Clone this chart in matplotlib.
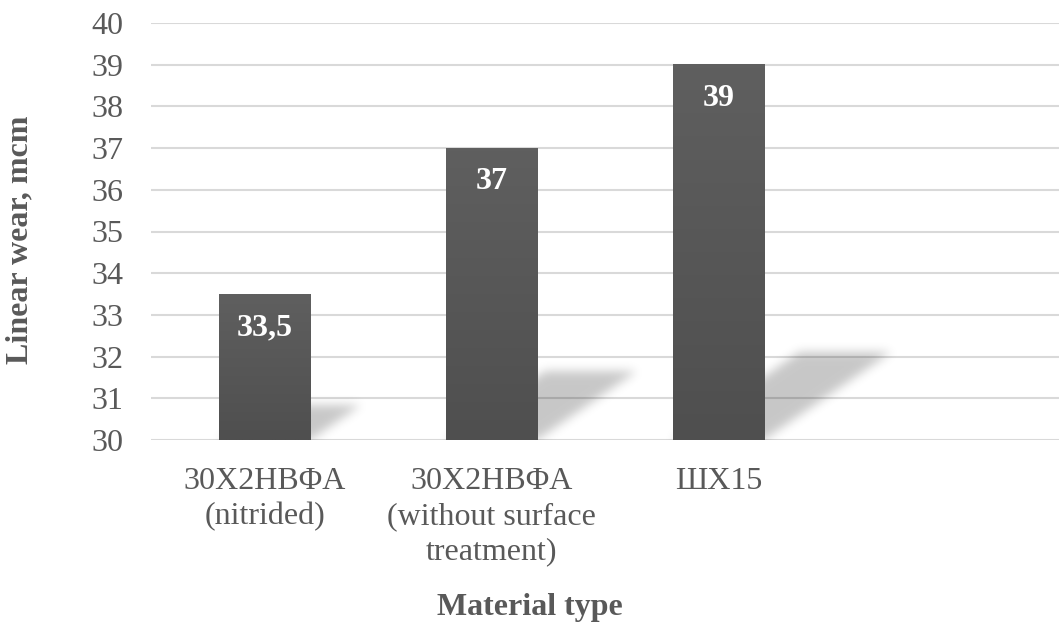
import matplotlib
matplotlib.use("Agg")
import matplotlib.pyplot as plt
import numpy as np
from matplotlib.colors import LinearSegmentedColormap

materials = ["30X2HBΦA\n(nitrided)", "30X2HBΦA\n(without surface\ntreatment)", "ШX15", ""]
wear = [33.5, 37, 39]
yticks = [30, 31, 32, 33, 34, 35, 36, 37, 38, 39, 40]

plt.rcParams['font.family'] = ['Liberation Serif', 'DejaVu Serif']
txt = '#595959'

fig = plt.figure(figsize=(10.59, 6.30), dpi=100)
ax = fig.add_axes([151/1059, 1-440/630, 908/1059, 417/630])

ymin, ymax = 30, 40
xlo, xhi = -0.5, len(materials) - 0.5
w = 0.405

# grid first so the shadows sit on top of it
for t in yticks:
    ax.axhline(t, color='#d9d9d9', lw=1.5, zorder=0.5)

# soft slanted shadows behind the bars
nx, ny = 908, 417
gx = np.linspace(xlo, xhi, nx)
gy = np.linspace(ymin, ymax, ny)
X, Y = np.meshgrid(gx, gy)
mask = np.zeros_like(X)
px_x = nx / (xhi - xlo)
px_y = ny / (ymax - ymin)
for i, v in enumerate(wear):
    h = 0.235 * (v - ymin)
    dx = 1.45 * h * px_y / px_x
    t = (Y - ymin) / h
    inside = (t >= 0) & (t <= 1) & (X >= i - w/2 + t*dx) & (X <= i + w/2 + t*dx)
    mask = np.maximum(mask, inside.astype(float))

def blur(a, sigma):
    r = int(3*sigma)
    k = np.exp(-0.5*(np.arange(-r, r+1)/sigma)**2)
    k /= k.sum()
    a = np.apply_along_axis(lambda m: np.convolve(m, k, mode='same'), 0, a)
    a = np.apply_along_axis(lambda m: np.convolve(m, k, mode='same'), 1, a)
    return a

soft = blur(mask, 5)
rgba = np.zeros((ny, nx, 4))
rgba[..., 3] = soft * 0.22
ax.imshow(rgba, extent=(xlo, xhi, ymin, ymax), origin='lower', aspect='auto',
          zorder=1, interpolation='bilinear')

# bars with a slight vertical gradient
grad = np.linspace(0, 1, 64).reshape(-1, 1)
cm = LinearSegmentedColormap.from_list('bar', ['#4f4f4f', '#5f5f5f'])
for i, v in enumerate(wear):
    ax.imshow(grad, cmap=cm, extent=(i - w/2, i + w/2, ymin, v), origin='lower',
              aspect='auto', zorder=2, interpolation='bilinear')
    ax.text(i, v - 0.8, str(v).replace('.', ',').replace(',0', ''), ha='center', va='center',
            color='white', fontsize=23, fontweight='bold', zorder=3)

ax.set_xlim(xlo, xhi)
ax.set_ylim(ymin, ymax)
ax.set_xticks(range(len(materials)))
ax.set_xticklabels(materials, color=txt, fontsize=23, linespacing=1.28, va='top')
ax.set_yticks(yticks)
ax.set_yticklabels([str(t) for t in yticks], color=txt, fontsize=23)
ax.tick_params(axis='x', length=0, pad=19.5)
ax.tick_params(axis='y', length=0, pad=20)
for s in ax.spines.values():
    s.set_visible(False)

fig.text(529.5/1059, 1-607/630, 'Material type', ha='center', va='center',
         color=txt, fontsize=23, fontweight='bold')
fig.text(20/1059, 1-240/630, 'Linear wear, mcm', ha='center', va='center', rotation=90,
         color=txt, fontsize=23, fontweight='bold')

fig.savefig('out.png', dpi=100)
